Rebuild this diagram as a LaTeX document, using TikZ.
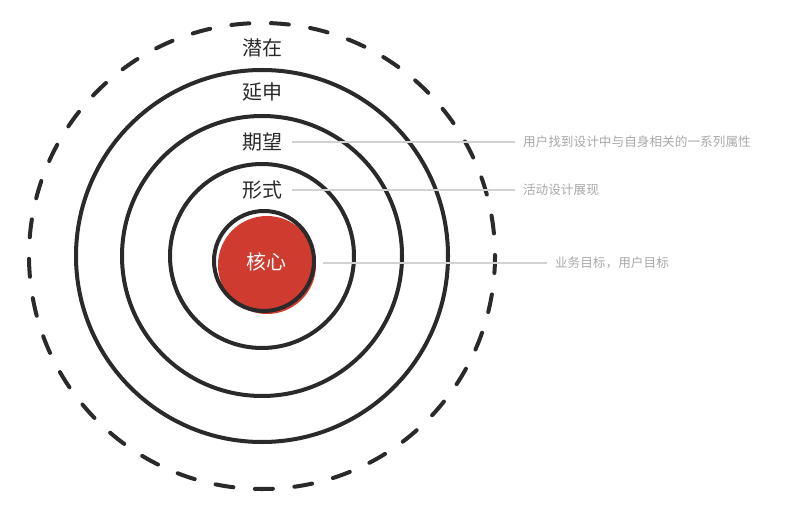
\documentclass[tikz,border=0pt]{standalone}
\usepackage{fontspec}
\setmainfont{Noto Sans CJK SC}
\definecolor{ringgray}{HTML}{2B2A2A}
\definecolor{corered}{HTML}{CF3B2F}
\definecolor{notegray}{HTML}{A8A8A8}
\definecolor{linegray}{HTML}{D2D2D2}
\tikzset{
  ring/.style={draw=ringgray, line width=2.85pt},
  layer/.style={text=ringgray, font=\fontsize{14.2}{17}\selectfont, inner sep=0pt},
  note/.style={text=notegray, font=\fontsize{9}{11}\selectfont, anchor=west, inner sep=0pt, outer xsep=5.7pt},
  leader/.style={draw=linegray, line width=0.75pt}
}
\begin{document}
\begin{tikzpicture}[x=0.025cm, y=-0.025cm]
		\useasboundingbox (0,0) rectangle (800,510);
		\coordinate (C) at (262,256);
		\coordinate (K) at (264,261);
		\coordinate (R) at (267,265);
		\fill[corered] (R) circle (49);
		\draw[ring] (K) circle (50);
		\draw[ring] (C) circle (92);
		\draw[ring] (C) circle (140);
		\draw[ring] (C) circle (186);
		\draw[ring, line cap=round, dash pattern=on 12.8pt off 15.34pt, dash phase=0.7pt] (C) circle (233);
		\node[layer] (qianzai) at (262,48) {潜在};
		\node[layer] (yanshen) at (262,92) {延申};
		\node[layer] (qiwang) at (262,142) {期望};
		\node[layer] (xingshi) at (262,190) {形式};
		\node[layer, text=white] (hexin) at (266,262) {核心};
		\node[note] (n1) at (515,142) {用户找到设计中与自身相关的一系列属性};
		\node[note] (n2) at (515,190) {活动设计展现};
		\node[note] (n3) at (547,263) {业务目标，用户目标};
		\coordinate (s1) at (292,142);
		\coordinate (s2) at (292,190);
		\coordinate (s3) at (323,263);
		\draw[leader] (s1) -- (n1.west);
		\draw[leader] (s2) -- (n2.west);
		\draw[leader] (s3) -- (n3.west);
	\end{tikzpicture}
\end{document}
